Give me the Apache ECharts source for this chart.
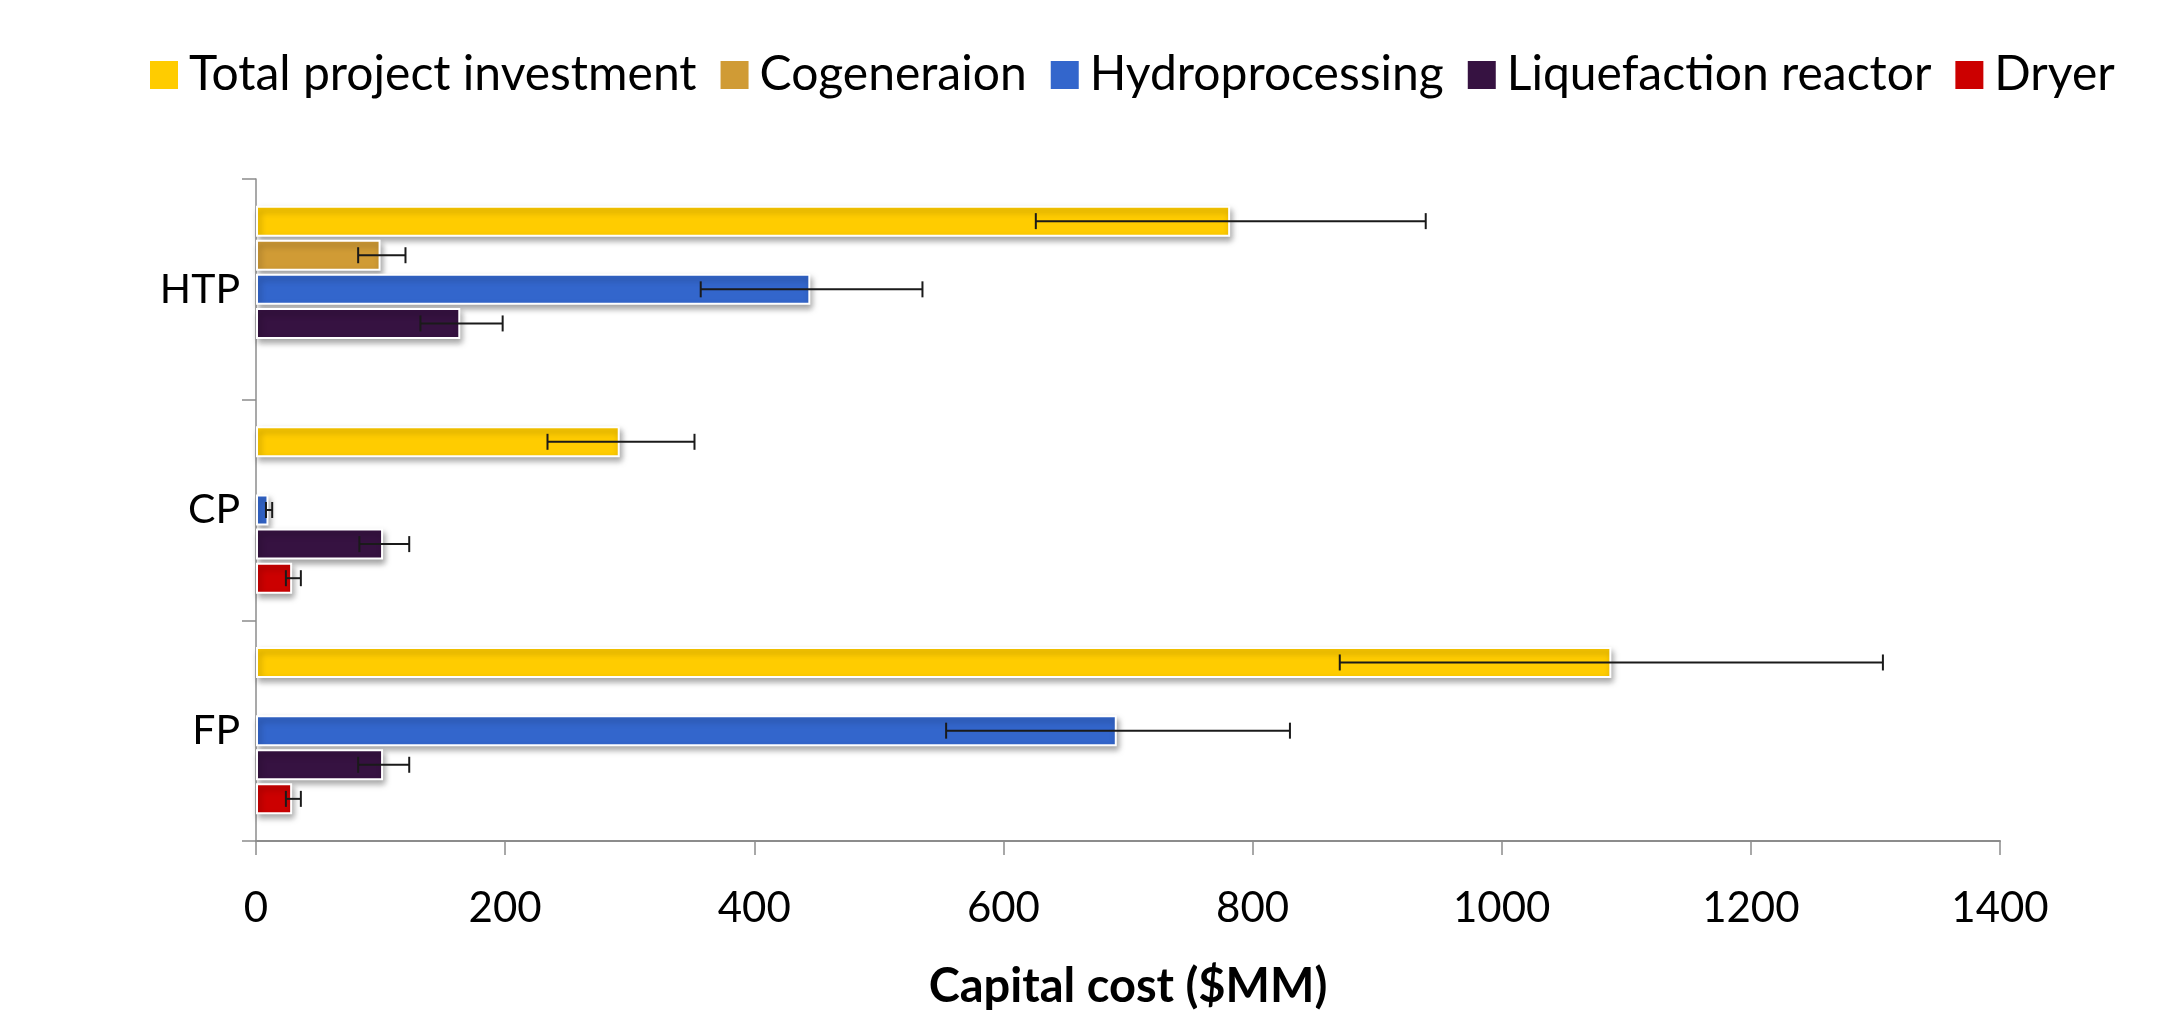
<!DOCTYPE html>
<html>
<head>
<meta charset="utf-8">
<title>Capital cost</title>
<script src="https://cdn.jsdelivr.net/npm/echarts@6/dist/echarts.min.js"></script>
<style>
  html, body { margin: 0; padding: 0; background: #fff; }
  #main { width: 2158px; height: 1017px; }
</style>
</head>
<body>
<div id="main"></div>
<script>
// categories, bottom to top
var categories = ['FP', 'CP', 'HTP'];
var seriesNames = ['Total project investment', 'Cogeneraion', 'Hydroprocessing', 'Liquefaction reactor', 'Dryer'];
var xTicks = [0, 200, 400, 600, 800, 1000, 1200, 1400];

// values per category (FP, CP, HTP)
var totalInvestment = [1088, 292, 782];
var cogeneration = [null, null, 100];
var hydroprocessing = [691, 10, 445];
var liquefaction = [102, 102, 164];
var dryer = [29, 29, null];

// error bar ranges [low, high] per category
var totalErr = [[870, 1306], [234, 352], [626, 939]];
var cogenErr = [null, null, [82, 120]];
var hydroErr = [[554, 830], [8, 13], [357, 535]];
var liqErr = [[82, 123], [83, 123], [132, 198]];
var dryerErr = [[24, 36], [24, 36], null];

var colors = ['#FFCC00', '#D09B35', '#3366CC', '#361241', '#CC0000'];
var values = [totalInvestment, cogeneration, hydroprocessing, liquefaction, dryer];
var errors = [totalErr, cogenErr, hydroErr, liqErr, dryerErr];

var BAR_W = 31;
var GAP = 0.1;
var N = seriesNames.length;
var FONT = 'Lato';

function barSeries(i) {
  return {
    name: seriesNames[i],
    type: 'bar',
    barWidth: BAR_W,
    barGap: (GAP * 100) + '%',
    data: values[i],
    itemStyle: {
      color: colors[i],
      borderColor: '#fff',
      borderWidth: 2,
      shadowColor: 'rgba(0,0,0,0.35)',
      shadowBlur: 6,
      shadowOffsetX: 2,
      shadowOffsetY: 4
    },
    z: 2
  };
}

function errSeries(i) {
  var data = [];
  errors[i].forEach(function (e, c) {
    if (e) data.push([c, e[0], e[1]]);
  });
  return {
    type: 'custom',
    name: seriesNames[i] + ' error',
    data: data,
    encode: { x: [1, 2], y: 0 },
    z: 5,
    silent: true,
    renderItem: function (params, api) {
      var cat = api.value(0);
      var p1 = api.coord([api.value(1), cat]);
      var p2 = api.coord([api.value(2), cat]);
      var total = N * BAR_W + (N - 1) * BAR_W * GAP;
      var y = p1[1] - total / 2 + i * BAR_W * (1 + GAP) + BAR_W / 2;
      var cap = 8;
      var st = { stroke: '#1a1a1a', lineWidth: 2 };
      return {
        type: 'group',
        children: [
          { type: 'line', shape: { x1: p1[0], y1: y, x2: p2[0], y2: y }, style: st },
          { type: 'line', shape: { x1: p1[0], y1: y - cap, x2: p1[0], y2: y + cap }, style: st },
          { type: 'line', shape: { x1: p2[0], y1: y - cap, x2: p2[0], y2: y + cap }, style: st }
        ]
      };
    }
  };
}

var series = [];
for (var i = 0; i < N; i++) series.push(barSeries(i));
for (var j = 0; j < N; j++) series.push(errSeries(j));

var myChart = echarts.init(document.getElementById('main'));
var option = {
  animation: false,
  color: colors,
  textStyle: { fontFamily: FONT },
  legend: {
    data: seriesNames,
    left: 145,
    top: 46,
    itemWidth: 28,
    itemHeight: 28,
    itemGap: 24,
    icon: 'rect',
    itemStyle: { borderWidth: 0, shadowBlur: 0, shadowOffsetX: 0, shadowOffsetY: 0 },
    textStyle: { fontFamily: FONT, fontSize: 48, color: '#000', padding: [0, 0, 0, 6] }
  },
  grid: { left: 256, right: 158, top: 179, bottom: 176 },
  xAxis: {
    type: 'value',
    min: 0,
    max: 1400,
    interval: 200,
    name: 'Capital cost ($MM)',
    nameLocation: 'middle',
    nameGap: 122,
    nameTextStyle: { fontFamily: FONT, fontSize: 47, fontWeight: 'bold', color: '#000' },
    axisLine: { show: true, lineStyle: { color: '#8c8c8c', width: 2 } },
    axisTick: { show: true, length: 14, lineStyle: { color: '#8c8c8c', width: 1.5 } },
    splitLine: { show: false },
    axisLabel: {
      fontFamily: FONT, fontSize: 42, color: '#000', margin: 46,
      formatter: function (v) { return xTicks.indexOf(v) >= 0 ? String(v) : ''; }
    }
  },
  yAxis: {
    type: 'category',
    data: categories,
    axisLine: { show: true, lineStyle: { color: '#8c8c8c', width: 1.5 } },
    axisTick: { show: true, length: 14, lineStyle: { color: '#8c8c8c', width: 1.5 } },
    axisLabel: { fontFamily: FONT, fontSize: 41, color: '#000', margin: 16 },
    splitLine: { show: false }
  },
  series: series
};

myChart.setOption(option);
window.onresize = function () { myChart.resize(); };
</script>
</body>
</html>
